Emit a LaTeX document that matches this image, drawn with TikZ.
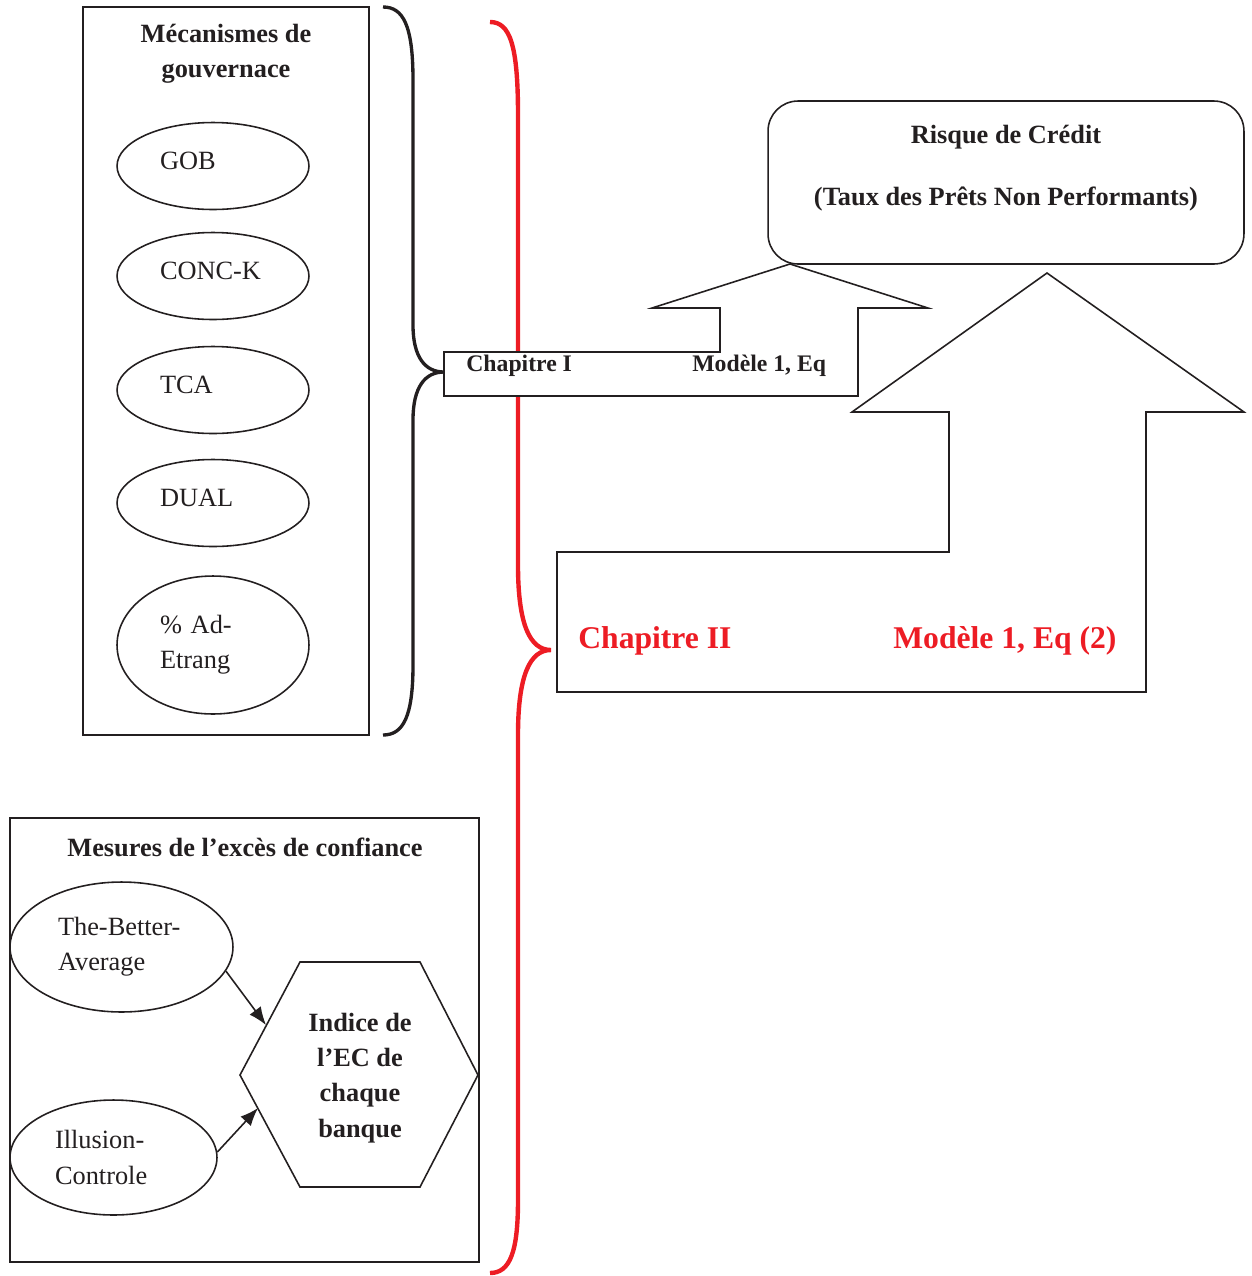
\documentclass[tikz,border=0pt]{standalone}
\usepackage{fontspec}
\setmainfont{Liberation Serif}
\usetikzlibrary{shapes.geometric,arrows.meta}
\definecolor{ink}{RGB}{35,31,32}
\definecolor{wordred}{RGB}{237,28,36}

\begin{document}
\begin{tikzpicture}[x=0.02cm,y=-0.02cm,
	frame/.style={draw=ink,line width=0.9pt},
	txt/.style={text=ink,font=\fontsize{15}{20}\selectfont},
	btxt/.style={text=ink,font=\bfseries\fontsize{15}{20}\selectfont},
	oval/.style={frame,ellipse,txt,inner sep=0pt,align=left},
	tip/.style={-{Latex[length=0.36cm,width=0.28cm]}}]
	\useasboundingbox (0,0) rectangle (1252,1276);

	\draw[wordred,line width=2.5pt] (490,22) .. controls (510,22) and (518,45) .. (518,115) -- (518,565)
		.. controls (518,625) and (530,650) .. (551,650) .. controls (530,650) and (518,675) .. (518,735)
		-- (518,1200) .. controls (518,1252) and (510,1273) .. (490,1273);

	\draw[frame,fill=white] (444,352) -- (720,352) -- (720,308) -- (652,308) -- (790,264) -- (928,308)
		-- (858,308) -- (858,396) -- (444,396) -- cycle;
	\node[text=ink,font=\bfseries\fontsize{13.5}{16}\selectfont,anchor=base west,inner sep=0pt] (chapI) at (466,371) {Chapitre I};
	\node[text=ink,font=\bfseries\fontsize{13.5}{16}\selectfont,anchor=base west,inner sep=0pt] (modI) at (692,371) {Modèle 1, Eq};

	\draw[ink,line width=1.9pt] (383,7) .. controls (403,7) and (413,25) .. (413,80) -- (413,325)
		.. controls (413,357) and (425,372) .. (444,372) .. controls (425,372) and (413,387) .. (413,420)
		-- (413,665) .. controls (413,717) and (403,735) .. (383,735);

	\draw[frame] (83,7) rectangle (369,735);
	\node[btxt,align=center] (govtitle) at (226,54) {Mécanismes de\\gouvernace};
	\foreach \t/\y [count=\i] in {GOB/166,CONC-K/276,TCA/390,DUAL/503}
		\node[oval,minimum width=3.84cm,minimum height=1.74cm,text width=2.12cm,text depth=0.22cm] (gov\i) at (213,\y) {\t};
	\node[oval,minimum width=3.84cm,minimum height=2.76cm,text width=2.12cm] (gov5) at (213,645) {\% Ad-\\Etrang};

	\node[frame,rounded corners=0.6cm,minimum width=9.52cm,minimum height=3.26cm] (risque) at (1006,182.5) {};
	\node[btxt,align=center] (risquetxt) at (1006,168) {Risque de Crédit\\[15pt](Taux des Prêts Non Performants)};

	\draw[frame,fill=white] (557,552) -- (949,552) -- (949,412) -- (852,412) -- (1047,273) -- (1244,412)
		-- (1146,412) -- (1146,692) -- (557,692) -- cycle;
	\node[text=wordred,font=\bfseries\fontsize{18}{22}\selectfont,anchor=base west,inner sep=0pt] (chapII) at (578,648) {Chapitre II};
	\node[text=wordred,font=\bfseries\fontsize{18}{22}\selectfont,anchor=base west,inner sep=0pt] (modII) at (893,648) {Modèle 1, Eq (2)};

	\draw[frame] (10,818) rectangle (479,1262);
	\node[btxt] (ectitle) at (245,847) {Mesures de l’excès de confiance};
	\node[oval,minimum width=4.46cm,minimum height=2.6cm,text width=2.54cm] (tba) at (121.5,947) {The-Better-\\Average};
	\node[oval,minimum width=4.14cm,minimum height=2.3cm,text width=2.34cm] (illu) at (113.5,1157.5) {Illusion-\\Controle};
	\draw[frame] (240,1075) -- (300,962) -- (420,962) -- (478,1075) -- (420,1187) -- (300,1187) -- cycle;
	\node[btxt,align=center] (indice) at (360,1078) {Indice de\\l’EC de\\chaque\\banque};
	\coordinate (hexA) at (266,1025);
	\coordinate (hexB) at (258,1108);
	\draw[frame,tip] (tba.-13) -- (hexA);
	\draw[frame,tip] (illu.3) -- (hexB);
\end{tikzpicture}
\end{document}
